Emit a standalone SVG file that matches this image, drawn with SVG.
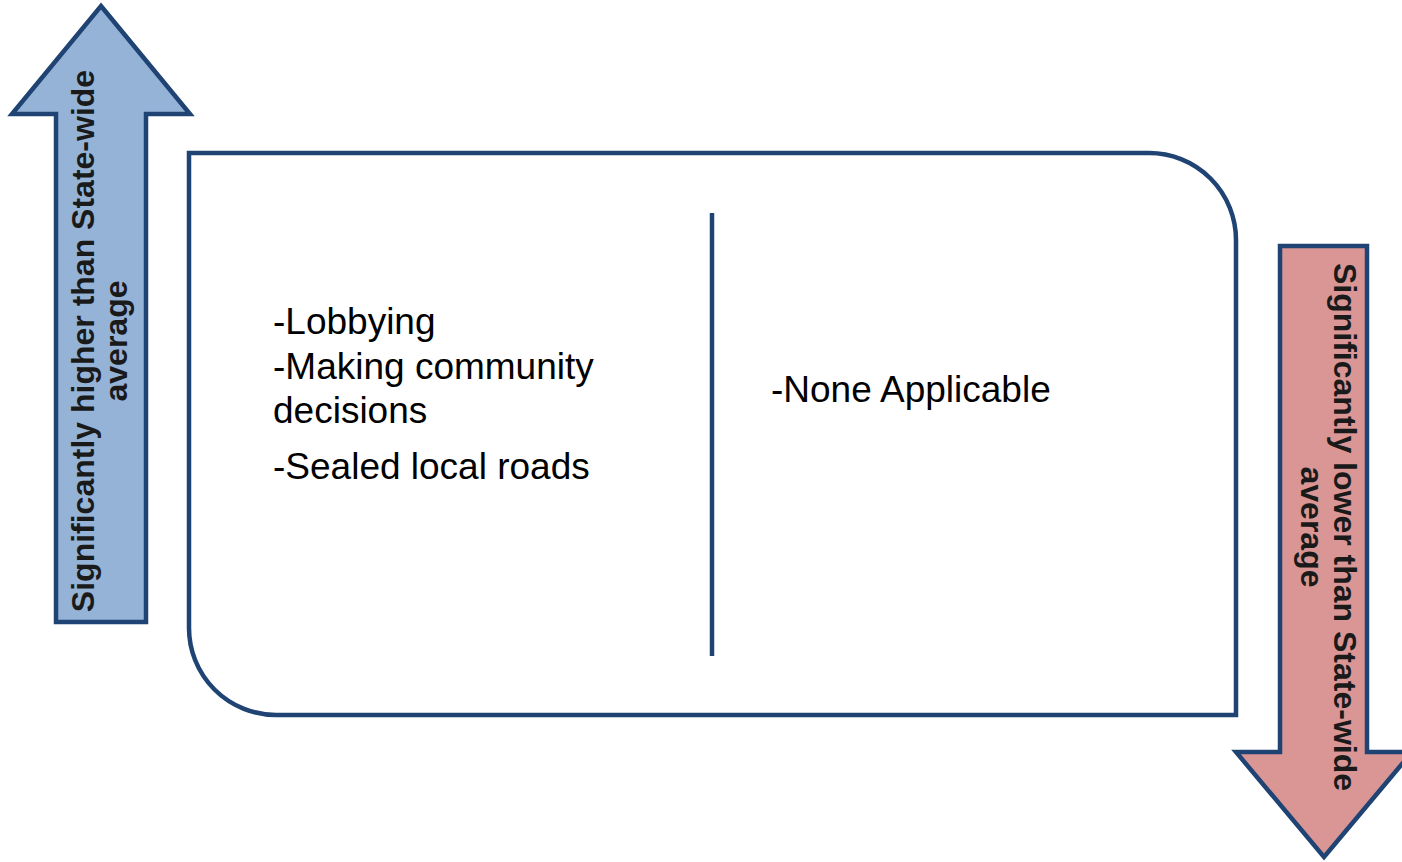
<svg xmlns="http://www.w3.org/2000/svg" width="1402" height="862" viewBox="0 0 1402 862">
<style>
.edge{stroke:#1F4373;stroke-width:4.5;stroke-linejoin:miter}
.up{fill:#95B3D7}
.down{fill:#D99694}
.lbl{font-family:"Liberation Sans",Arial,sans-serif;font-size:32px;font-weight:bold;fill:#1a1a1a;text-anchor:middle}
.body{font-family:"Liberation Sans",Arial,sans-serif;font-size:37px;fill:#000}
</style>
<rect width="1402" height="862" fill="#fff"/>
<g id="box">
<path class="edge" fill="#fff" d="M189,153 H1149 A87,87 0 0 1 1236,240 V715 H276 A87,87 0 0 1 189,628 Z"/>
</g>
<g id="connectors">
<line class="edge" x1="712" y1="213" x2="712" y2="656"/>
</g>
<g id="arrow-up">
<polygon class="edge up" points="101,6 190,114 146,114 146,622 56,622 56,114 12,114"/>
<text class="lbl" transform="translate(94,341) rotate(-90)"><tspan x="0" y="0">Significantly higher than State-wide</tspan><tspan x="0" y="33">average</tspan></text>
</g>
<g id="arrow-down">
<polygon class="edge down" points="1280,246 1367,246 1367,752 1412,752 1324,857 1236,752 1280,752"/>
<text class="lbl" transform="translate(1334,527) rotate(90)"><tspan x="0" y="0">Significantly lower than State-wide</tspan><tspan x="0" y="33">average</tspan></text>
</g>
<g id="left-list">
<text class="body"><tspan x="273" y="334">-Lobbying</tspan><tspan x="273" y="379">-Making community</tspan><tspan x="273" y="423">decisions</tspan><tspan x="273" y="479">-Sealed local roads</tspan></text>
</g>
<g id="right-list">
<text class="body" x="771" y="402">-None Applicable</text>
</g>
</svg>
